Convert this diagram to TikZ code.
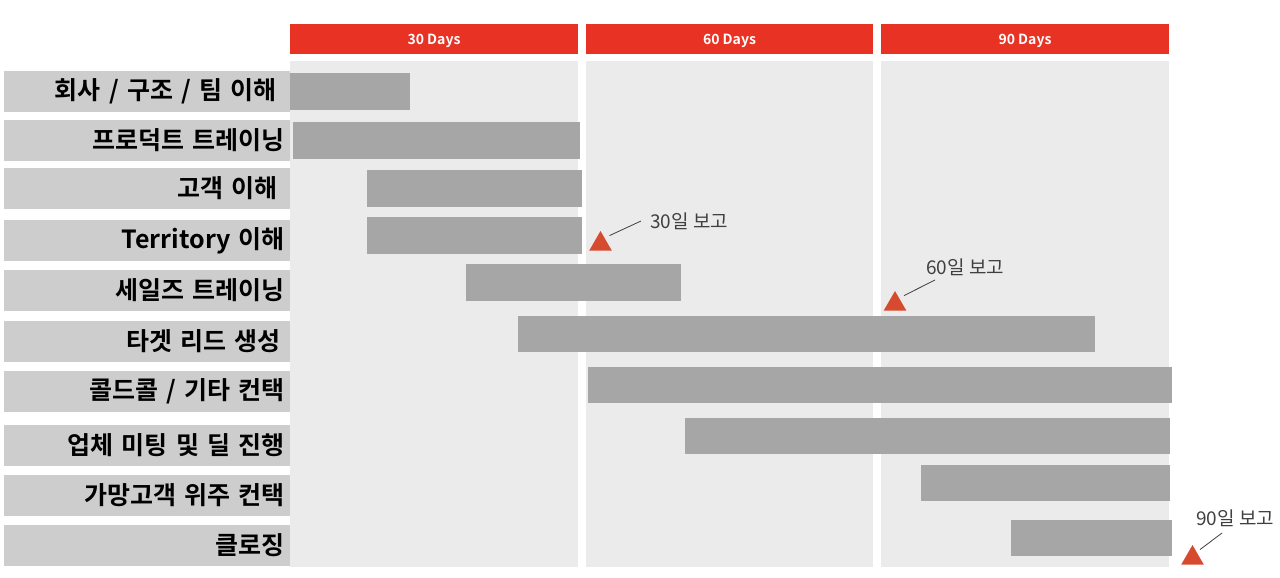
\documentclass[tikz,border=0pt]{standalone}
\usepackage{fontspec}
\setmainfont{Noto Sans CJK KR}[BoldFont={Noto Sans CJK KR Bold}]
\usepackage{tikz}
\usetikzlibrary{shapes.geometric,positioning}
\definecolor{hdrred}{RGB}{232,50,35}
\definecolor{trired}{RGB}{214,75,48}
\definecolor{colbg}{RGB}{235,235,235}
\definecolor{lblgray}{RGB}{205,205,205}
\definecolor{bargray}{RGB}{166,166,166}
\definecolor{txtgray}{RGB}{64,64,64}

\begin{document}
\begin{tikzpicture}[x=1pt, y=-1pt,
    hdr/.style={fill=hdrred, text=white, minimum width=288pt, minimum height=30pt,
                inner sep=0pt, text height=11.5pt, text depth=0pt,
                font=\fontsize{14}{16}\selectfont\bfseries},
    lbl/.style={fill=lblgray, minimum height=41pt, text width=276pt, inner xsep=5pt,
                align=right, font=\fontsize{25}{28}\selectfont\bfseries},
    tri/.style={regular polygon, regular polygon sides=3, fill=trired, draw=none,
                minimum size=26pt, inner sep=0pt},
    rep/.style={anchor=west, inner sep=0pt, text=txtgray, font=\fontsize{19}{21}\selectfont},
    lead/.style={draw=txtgray, line width=0.8pt}
]
\useasboundingbox (0,0) rectangle (1280,578);

% column backgrounds
\fill[colbg] (290,61) rectangle (578,567);
\fill[colbg] (586,61) rectangle (873,567);
\fill[colbg] (881,61) rectangle (1169,567);

% headers
\node[hdr] (h30) at (434,39) {30 Days};
\node[hdr, minimum width=287pt] (h60) at (729.5,39) {60 Days};
\node[hdr] (h90) at (1025,39) {90 Days};

% task labels
\node[lbl] (r1) at (147,91.5) {회사 / 구조 / 팀 이해\kern8pt};
\node[lbl] (r2) at (147,140.5) {프로덕트 트레이닝};
\node[lbl] (r3) at (147,188.5) {고객 이해\kern7pt};
\node[lbl] (r4) at (147,240.5) {Territory 이해};
\node[lbl] (r5) at (147,290.5) {세일즈 트레이닝};
\node[lbl] (r6) at (147,341.5) {타겟 리드 생성\kern4pt};
\node[lbl] (r7) at (147,391.5) {콜드콜 / 기타 컨택};
\node[lbl] (r8) at (147,445.5) {업체 미팅 및 딜 진행};
\node[lbl] (r9) at (147,495.5) {가망고객 위주 컨택};
\node[lbl] (r10) at (147,545.5) {클로징};

% bars
\fill[bargray] (290,73) rectangle (410,110);
\fill[bargray] (293,122) rectangle (580,159);
\fill[bargray] (367,170) rectangle (582,207);
\fill[bargray] (367,217) rectangle (582,254);
\fill[bargray] (466,264) rectangle (681,301);
\fill[bargray] (518,316) rectangle (1095,352);
\fill[bargray] (588,367) rectangle (1172,403);
\fill[bargray] (685,418) rectangle (1170,454);
\fill[bargray] (921,465) rectangle (1170,501);
\fill[bargray] (1011,520) rectangle (1172,556);

% milestones
\node[tri] (m30) at (600.5,244) {};
\node[rep] (t30) at (650,221) {30일 보고};
\draw[lead] ([shift={(9pt,-5pt)}]m30.corner 1) -- ([xshift=-9pt]t30.west);

\node[tri] (m60) at (895,304) {};
\node[rep] (t60) at (926,267) {60일 보고};
\draw[lead] ([shift={(9pt,-5pt)}]m60.corner 1) -- ([shift={(9pt,-13pt)}]t60.west);

\node[tri] (m90) at (1192.5,558) {};
\node[rep] (t90) at (1196,518) {90일 보고};
\draw[lead] ([shift={(7.5pt,-5pt)}]m90.corner 1) -- ([shift={(26pt,-15pt)}]t90.west);

\end{tikzpicture}
\end{document}
